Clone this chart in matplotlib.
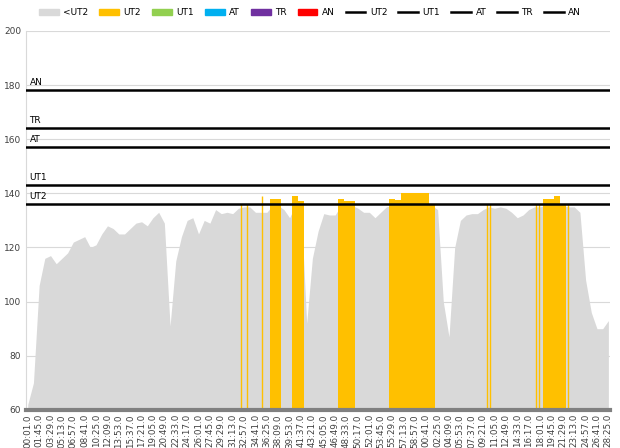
import numpy as np
import matplotlib
matplotlib.use("Agg")
from matplotlib import pyplot as plt
from matplotlib.patches import Patch
from matplotlib.lines import Line2D

# heart rate, one value every 52 s starting at 00:01
hr = [62, 70, 106, 116, 117, 114, 116, 118, 122, 123,
      124, 120, 121, 125, 128, 127, 125, 125, 127, 129,
      129.5, 128, 131, 133, 129, 91, 115, 124, 130, 131,
      125, 130, 129, 134, 132.5, 133, 132.5, 134.5, 135, 135,
      133, 133, 133, 138, 138, 134, 131, 139, 137, 92,
      116, 126, 132.5, 132, 132, 138, 137, 137, 134.5, 133,
      133, 131, 133, 135, 138, 137.5, 140, 140, 140, 140,
      140, 136, 134, 100, 87, 120, 130, 132, 132.5, 132.5,
      134, 135, 134.5, 135, 134.5, 133, 131, 132, 134, 135,
      135, 138, 138, 139, 136, 135, 135, 133, 108, 96,
      90, 90, 93]
step_s = 52
# short single-sample excursions into UT2 (seconds, bpm)
spike_t = [1953, 2008, 2145, 4197, 4225, 4645, 4672, 4937]
spike_v = [136, 136, 139, 136, 136, 136, 136, 136]

zones = {"UT2": 136, "UT1": 143, "AT": 157, "TR": 164, "AN": 178}
zone_colors = ["#d9d9d9", "#ffc000", "#92d050", "#00b0f0", "#7030a0", "#ff0000"]
zone_names = ["<UT2", "UT2", "UT1", "AT", "TR", "AN"]

hr = np.array(hr)
n = len(hr)
x = np.arange(n)
in_ut2 = hr >= zones["UT2"]

fig = plt.figure(figsize=(6.2, 4.48), dpi=100)
ax = fig.add_axes([0.042, 0.085, 0.942, 0.846])

ax.fill_between(x, 60, np.minimum(hr, zones["UT2"] - 0.5), color=zone_colors[0],
                lw=0, zorder=2)
ax.bar(x[in_ut2], hr[in_ut2] - 60, bottom=60, width=1.0, color=zone_colors[1],
       linewidth=0, zorder=2)
sx = (np.array(spike_t) - 1) / step_s
ax.vlines(sx, 60, spike_v, color="#ffc000", lw=1, zorder=2)

for name, v in zones.items():
    ax.axhline(v, color="black", lw=1.8, zorder=3)
    ax.text(0.3, v + 1.2, name, fontsize=6.5, ha="left", va="bottom", zorder=4)

ax.set_ylim(60, 200)
ax.set_xlim(-0.3, n - 1 + 0.3)
ax.set_yticks(range(60, 201, 20))
ax.yaxis.grid(True, color="#d9d9d9", lw=0.8, zorder=0)
ax.set_axisbelow(True)

ticks = x[::2]
labels = []
for i in ticks:
    t = (1 + i * step_s) % 3600
    labels.append("%02d:%02d.0" % (t // 60, t % 60))
ax.set_xticks(ticks)
ax.set_xticklabels(labels, rotation=90, fontsize=6.3, color="#404040")
ax.tick_params(axis="y", labelsize=6.5, colors="#404040", length=0)
ax.tick_params(axis="x", length=0, pad=3)

for s in ["top", "right"]:
    ax.spines[s].set_visible(False)
ax.spines["left"].set_color("#d9d9d9")
ax.spines["bottom"].set_color("#808080")
ax.spines["bottom"].set_linewidth(3)
ax.spines["bottom"].set_zorder(5)

handles = [Patch(color=c, label=l) for c, l in zip(zone_colors, zone_names)]
handles += [Line2D([], [], color="black", lw=1.8, label=k) for k in zones]
fig.legend(handles=handles, loc="upper center", bbox_to_anchor=(0.5, 1.0),
           ncol=11, frameon=False, fontsize=6.5, handlelength=2.2,
           handletextpad=0.5, columnspacing=1.2)

fig.savefig("out.png", dpi=100)
